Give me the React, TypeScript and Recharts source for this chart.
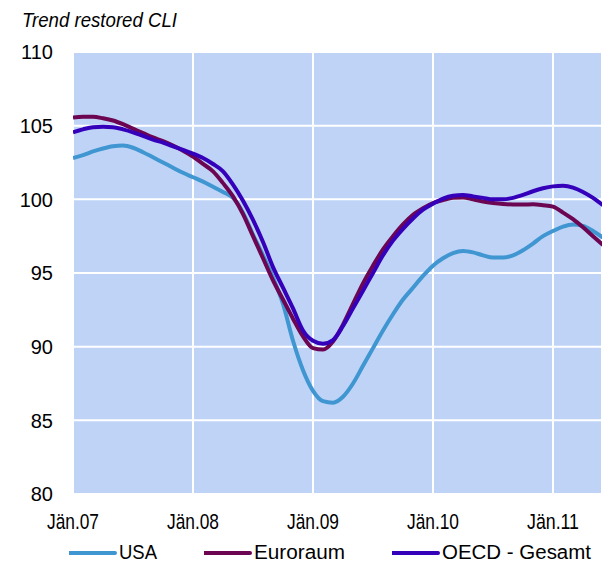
import { LineChart, Line, XAxis, YAxis, CartesianGrid } from 'recharts'

const FONT = '"Liberation Sans", Arial, sans-serif'

// x ticks sit on January of each year (month index from Jan.07)
const TICK_MONTHS = [0, 12, 24, 36, 48]
const TICK_LABELS = ['Jän.07', 'Jän.08', 'Jän.09', 'Jän.10', 'Jän.11']
const Y_TICKS = [80, 85, 90, 95, 100, 105, 110]

// monthly values, Jan 2007 .. Jun 2011
const USA = [
  102.8, 103.0, 103.25, 103.45, 103.6, 103.65, 103.5, 103.2, 102.85, 102.5, 102.15, 101.8,
  101.5, 101.2, 100.85, 100.5, 100.1, 99.1, 97.6, 96.2, 94.7, 92.9, 90.4, 88.4,
  87.0, 86.3, 86.2, 86.6, 87.5, 88.7, 89.9, 91.1, 92.2, 93.2, 94.0, 94.8,
  95.5, 96.0, 96.35, 96.5, 96.4, 96.2, 96.05, 96.05, 96.2, 96.55, 97.0, 97.5,
  97.85, 98.15, 98.3, 98.2, 97.85, 97.4,
]
const EURO = [
  105.55, 105.6, 105.6, 105.5, 105.35, 105.1, 104.8, 104.5, 104.2, 103.95, 103.65, 103.3,
  102.9, 102.4, 101.9, 101.1, 100.2, 99.0, 97.5, 96.0, 94.5, 93.2, 91.9, 90.7,
  89.9, 89.8, 90.35, 91.5, 92.9, 94.3, 95.5, 96.6, 97.5, 98.3, 98.95, 99.4,
  99.75, 99.95, 100.1, 100.13, 100.0, 99.85, 99.75, 99.68, 99.65, 99.65, 99.66, 99.6,
  99.5, 99.1, 98.65, 98.1, 97.5, 96.9,
]
const OECD = [
  104.55, 104.75, 104.9, 104.93, 104.9, 104.75, 104.55, 104.3, 104.05, 103.85, 103.6, 103.35,
  103.1, 102.8, 102.4, 101.9, 101.0, 99.9, 98.6, 97.1, 95.4, 94.0, 92.6, 91.1,
  90.4, 90.2, 90.45, 91.4, 92.6, 93.8, 95.0, 96.2, 97.2, 98.0, 98.7, 99.3,
  99.7, 100.05, 100.25, 100.3, 100.2, 100.1, 100.0, 100.0, 100.1, 100.3, 100.55, 100.75,
  100.88, 100.92, 100.8, 100.5, 100.1, 99.6,
]

const SERIES = [
  { key: 'usa', name: 'USA', color: '#3F96D1', textW: 38 },
  { key: 'euro', name: 'Euroraum', color: '#6C0552', textW: 91 },
  { key: 'oecd', name: 'OECD - Gesamt', color: '#3500BA', textW: 149 },
]

const data = USA.map((v, i) => ({ m: i, usa: v, euro: EURO[i], oecd: OECD[i] }))

function XTick({ x, y, payload }: any) {
  const idx = TICK_MONTHS.indexOf(payload.value)
  return (
    <text x={x} y={y} dy={35} textAnchor="middle" fontSize={22} fontFamily={FONT} fill="#000"
      textLength={52} lengthAdjust="spacingAndGlyphs">
      {TICK_LABELS[idx]}
    </text>
  )
}

function YTick({ x, y, payload }: any) {
  return (
    <text x={x} y={y} dy="0.36em" textAnchor="end" fontSize={20} fontFamily={FONT} fill="#000">
      {payload.value}
    </text>
  )
}

export default function App() {
  return (
    <div style={{ position: 'absolute', left: 0, top: 0, width: 602, height: 564, background: '#fff', overflow: 'hidden' }}>
      <svg width={602} height={40} style={{ position: 'absolute', left: 0, top: 0 }}>
        <text x={22} y={27} fontSize={20} fontStyle="italic" fontFamily={FONT} fill="#000"
          textLength={155} lengthAdjust="spacingAndGlyphs">
          Trend restored CLI
        </text>
      </svg>

      <LineChart width={602} height={564} data={data} margin={{ top: 52, right: 0, bottom: 0, left: 0 }}>
        <CartesianGrid fill="#BFD3F7" stroke="#FFFFFF" strokeWidth={2} />
        <XAxis
          dataKey="m"
          type="number"
          domain={[0, 52.9]}
          allowDataOverflow
          ticks={TICK_MONTHS}
          tick={<XTick />}
          tickSize={0}
          tickMargin={0}
          axisLine={false}
          tickLine={false}
          height={70}
          interval={0}
        />
        <YAxis
          type="number"
          domain={[80, 110]}
          ticks={Y_TICKS}
          tick={<YTick />}
          tickSize={0}
          tickMargin={20}
          axisLine={false}
          tickLine={false}
          width={73}
          interval={0}
        />
        {SERIES.map(s => (
          <Line key={s.key} dataKey={s.key} name={s.name} type="monotone" stroke={s.color}
            strokeWidth={4} dot={false} activeDot={false} isAnimationActive={false} />
        ))}
      </LineChart>

      {/* legend drawn below the plot as plain svg items */}
      <div style={{ position: 'absolute', left: 69, top: 536, display: 'flex', gap: 41 }}>
        {SERIES.map(s => (
          <svg key={s.key} width={56 + s.textW} height={27}>
            <line x1={0} x2={46} y1={17} y2={17} stroke={s.color} strokeWidth={4} strokeLinecap="round" />
            <text x={50} y={23} fontSize={20} fontFamily={FONT} fill="#000"
              textLength={s.textW} lengthAdjust="spacingAndGlyphs">
              {s.name}
            </text>
          </svg>
        ))}
      </div>
    </div>
  )
}
